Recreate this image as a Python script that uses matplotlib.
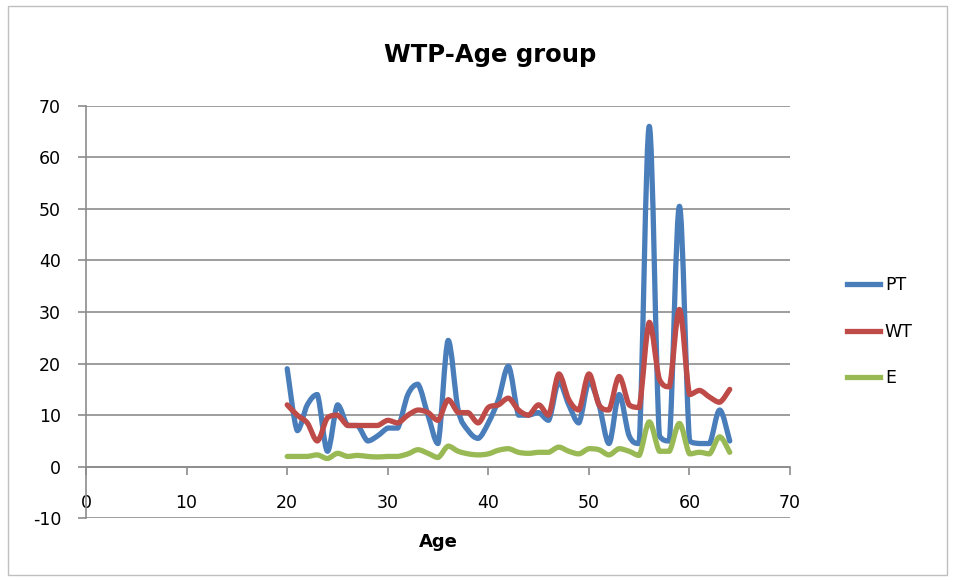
import numpy as np
import matplotlib.pyplot as plt
from matplotlib.path import Path
from matplotlib.patches import PathPatch, Rectangle
from matplotlib.lines import Line2D

plt.rcParams["axes.unicode_minus"] = False

# WTP by age
age = list(range(20, 65))
pt = [19, 7, 12, 14, 3, 12, 8, 8, 5, 6, 7.5, 7.5, 14, 16, 10, 4.5, 24.5,
      11, 7, 5.5, 8.5, 13, 19.5, 10, 10, 10.5, 9, 16.5, 12, 8.5, 16.5, 12,
      4.5, 14, 6, 4.5, 66, 6, 5, 50.5, 5, 4.5, 4.5, 11, 5]
wt = [12, 10, 8.5, 5, 9.5, 10, 8, 8, 8, 8, 9, 8.5, 10, 11, 10.5, 9, 13,
      10.5, 10.5, 8.5, 11.5, 12, 13.3, 11, 10, 12, 10, 18, 13, 11, 18, 12,
      11, 17.5, 12, 11.5, 28, 17, 15.5, 30.5, 14, 14.8, 13.5, 12.5, 15]
e = [2, 2, 2, 2.3, 1.6, 2.6, 2, 2.2, 2, 1.9, 2, 2, 2.5, 3.3, 2.6, 1.8, 4,
     3, 2.5, 2.3, 2.5, 3.2, 3.5, 2.8, 2.6, 2.8, 2.8, 3.8, 3, 2.5, 3.5, 3.3,
     2.3, 3.5, 3, 2.2, 8.7, 3, 3, 8.4, 2.5, 2.8, 2.5, 5.8, 2.8]

series = [("PT", pt, "#4A7EBB"), ("WT", wt, "#BE4B48"), ("E", e, "#98B954")]
grid_col = "#8C8C8C"


def smooth_path(x, y):
    # Bezier segments through every point, control points kept inside
    # each segment's y-range so the curve doesn't overshoot
    p = np.column_stack([x, y]).astype(float)
    n = len(p)
    verts = [p[0]]
    codes = [Path.MOVETO]
    for i in range(n - 1):
        p0 = p[i - 1] if i > 0 else p[i]
        p3 = p[i + 2] if i + 2 < n else p[i + 1]
        c1 = p[i] + (p[i + 1] - p0) / 6
        c2 = p[i + 1] - (p3 - p[i]) / 6
        lo, hi = sorted([p[i][1], p[i + 1][1]])
        c1[1] = min(max(c1[1], lo), hi)
        c2[1] = min(max(c2[1], lo), hi)
        verts += [c1, c2, p[i + 1]]
        codes += [Path.CURVE4] * 3
    return Path(verts, codes)


fig = plt.figure(figsize=(9.55, 5.82), dpi=100)
fig.patches.append(Rectangle((0.008, 0.012), 0.984, 0.978, transform=fig.transFigure,
                             fill=False, edgecolor="#BFBFBF", lw=1))

ax = fig.add_axes([0.0901, 0.1094, 0.7372, 0.709])
ax.set_xlim(0, 70)
ax.set_ylim(-10, 70)

for name, vals, col in series:
    ax.add_patch(PathPatch(smooth_path(age, vals), fill=False, edgecolor=col,
                           lw=3.8, capstyle="round", joinstyle="round", zorder=3))

ax.set_yticks(range(-10, 71, 10))
ax.set_xticks(range(0, 71, 10))
ax.grid(axis="y", color=grid_col, lw=1.2)
ax.set_axisbelow(True)
for s in ["top", "right"]:
    ax.spines[s].set_visible(False)
ax.spines["bottom"].set_position(("data", 0))
ax.spines["bottom"].set_color(grid_col)
ax.spines["left"].set_color(grid_col)
ax.spines["bottom"].set_linewidth(1.2)
ax.spines["left"].set_linewidth(1.2)
ax.tick_params(axis="y", length=6, width=1.2, color=grid_col, pad=12, labelsize=12.5)
ax.tick_params(axis="x", length=6, width=1.2, color=grid_col, pad=13.5, labelsize=12.5)

fig.text(0.513, 0.905, "WTP-Age group", ha="center", va="center",
         fontsize=17.5, fontweight="bold")
ax.text(35, -14.5, "Age", ha="center", va="center", fontsize=13, fontweight="bold")

handles = [Line2D([], [], color=c, lw=3.8) for _, _, c in series]
fig.legend(handles, [s[0] for s in series], loc="center left",
           bbox_to_anchor=(0.871, 0.43), frameon=False, fontsize=12.5,
           handlelength=1.9, handletextpad=0.25, labelspacing=1.65)

fig.savefig("out.png", dpi=100)
